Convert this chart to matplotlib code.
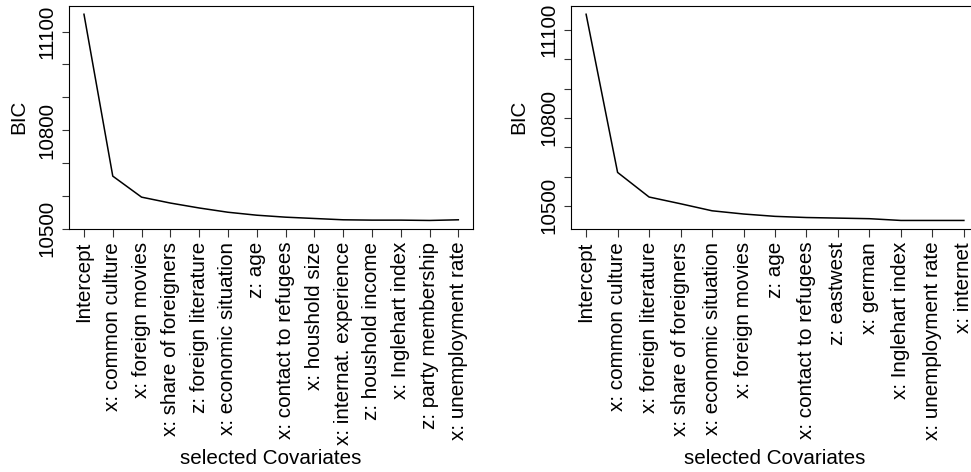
import numpy as np
import matplotlib
matplotlib.use("Agg")
import matplotlib.pyplot as plt

plt.rcParams['font.family'] = ['Liberation Sans', 'DejaVu Sans']
plt.rcParams['font.size'] = 14.9

# ---- data ----
left_labels = ["Intercept", "x: common culture", "x: foreign movies",
               "x: share of foreigners", "z: foreign literature",
               "x: economic situation", "z: age", "x: contact to refugees",
               "x: houshold size", "x: internat. experience",
               "z: houshold income", "x: Inglehart index",
               "z: party membership", "x: unemployment rate"]
left_bic = [11153, 10660, 10596, 10578, 10563, 10550, 10541, 10535,
            10531, 10527, 10526, 10526, 10525, 10527]

right_labels = ["Intercept", "x: common culture", "x: foreign literature",
                "x: share of foreigners", "x: economic situation",
                "x: foreign movies", "z: age", "x: contact to refugees",
                "z: eastwest", "x: german", "x: Inglehart index",
                "x: unemployment rate", "x: internet"]
right_bic = [11154, 10614, 10530, 10507, 10483, 10472, 10464, 10460,
             10458, 10456, 10450, 10450, 10450]

yticks = [10500, 10600, 10700, 10800, 10900, 11000, 11100]
ylabels_shown = {10500, 10800, 11100}

W, H = 971, 472
fig = plt.figure(figsize=(W / 100, H / 100), dpi=100)

def px_axes(x0, x1, y0, y1):
    return fig.add_axes([x0 / W, 1 - y1 / H, (x1 - x0) / W, (y1 - y0) / H])

ax_l = px_axes(69, 473.3, 6, 228.7)
ax_r = px_axes(571, 979, 6, 228.7)

def draw(ax, labels, bic, ylab_x):
    x = np.arange(1, len(labels) + 1)
    ax.plot(x, bic, color='black', lw=1.1)
    ax.margins(x=0.04, y=0.04)
    ax.set_xticks(x)
    ax.set_xticklabels(labels, rotation=90, va='top', ha='center')
    ax.set_yticks(yticks)
    ax.set_yticklabels([str(t) if t in ylabels_shown else "" for t in yticks],
                       rotation=90, va='center', ha='right')
    ax.tick_params(direction='out', length=5.4, width=0.8, color='#333333',
                   pad=4, top=False, right=False)
    for s in ax.spines.values():
        s.set_linewidth(0.8)
    ax.set_ylabel("BIC")
    ax.yaxis.set_label_coords(ylab_x, 0.5)
    ax.yaxis.label.set_va('center')
    ax.set_xlabel("selected Covariates")
    ax.xaxis.set_label_coords(0.5, -1.03)
    ax.xaxis.label.set_va('center')

draw(ax_l, left_labels, left_bic, -0.1254)
draw(ax_r, right_labels, right_bic, -0.1275)

fig.savefig("out.png", dpi=100)
